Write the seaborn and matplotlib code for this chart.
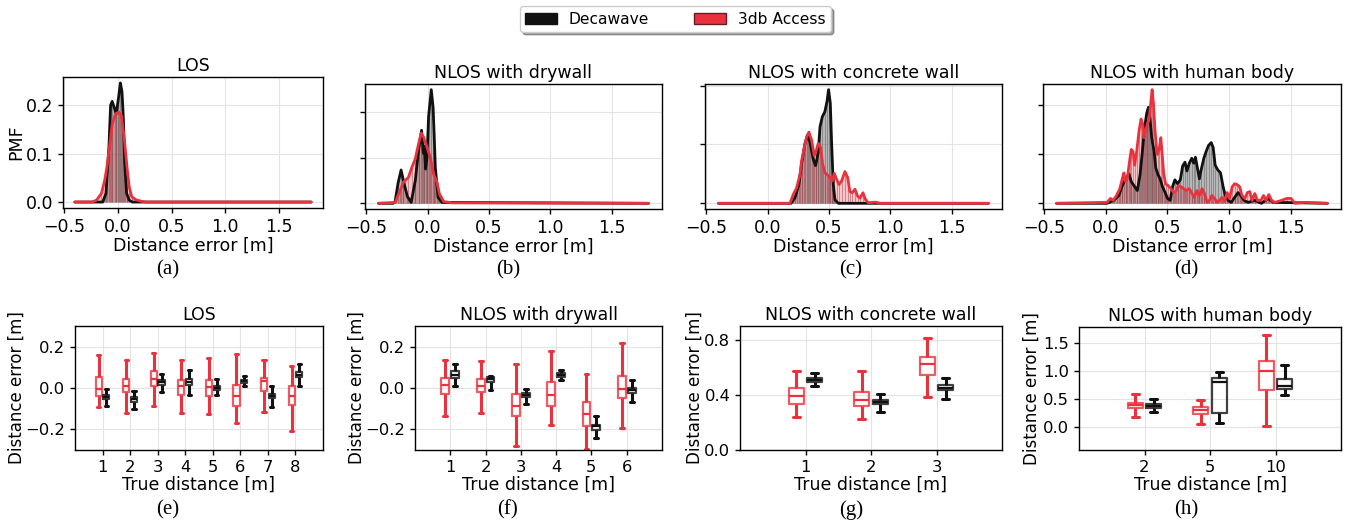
import numpy as np
import pandas as pd
import matplotlib
matplotlib.use("Agg")
import matplotlib.pyplot as plt
import seaborn as sns
from matplotlib.patches import Patch

# ---------------- data: PMF curves (top row) ----------------
LOS_DW_X = [-0.40, -0.14, -0.11, -0.082, -0.067, -0.052, -0.030, -0.015, 0.006, 0.024, 0.039, 0.052, 0.064, 0.082, 0.106, 0.136, 1.80]
LOS_DW_PMF = [0, 0, 0.018, 0.116, 0.200, 0.208, 0.193, 0.182, 0.214, 0.246, 0.228, 0.172, 0.081, 0.018, 0.004, 0, 0]
LOS_3DB_X = [-0.40, -0.24, -0.197, -0.152, -0.121, -0.100, -0.076, -0.052, -0.021, 0.009, 0.033, 0.061, 0.085, 0.106, 0.130, 0.167, 0.212, 0.258, 1.80]
LOS_3DB_PMF = [0, 0, 0.004, 0.018, 0.046, 0.074, 0.116, 0.161, 0.182, 0.186, 0.179, 0.130, 0.074, 0.032, 0.011, 0.005, 0.002, 0, 0]

DRY_DW_X = [-0.40, -0.28, -0.265, -0.240, -0.216, -0.197, -0.165, -0.134, -0.100, -0.074, -0.049, -0.035, -0.027, -0.016, -0.005, 0.008, 0.030, 0.045, 0.055, 0.063, 0.085, 0.117, 1.80]
DRY_DW_PMF = [0, 0, 0.004, 0.045, 0.073, 0.050, 0.015, 0.002, 0.050, 0.116, 0.160, 0.110, 0.125, 0.075, 0.100, 0.190, 0.249, 0.210, 0.140, 0.079, 0.013, 0.002, 0]
DRY_3DB_X = [-0.40, -0.265, -0.224, -0.197, -0.156, -0.128, -0.101, -0.074, -0.052, -0.033, -0.005, 0.022, 0.049, 0.077, 0.096, 0.131, 0.200, 1.80]
DRY_3DB_PMF = [0, 0.002, 0.028, 0.046, 0.057, 0.079, 0.097, 0.130, 0.154, 0.145, 0.123, 0.101, 0.064, 0.046, 0.021, 0.004, 0.001, 0]

CON_DW_X = [-0.40, 0.190, 0.223, 0.255, 0.277, 0.304, 0.326, 0.345, 0.372, 0.391, 0.413, 0.427, 0.446, 0.467, 0.484, 0.497, 0.511, 0.522, 0.535, 0.549, 0.576, 1.80]
CON_DW_PMF = [0, 0, 0.009, 0.032, 0.067, 0.101, 0.116, 0.104, 0.075, 0.064, 0.087, 0.130, 0.147, 0.156, 0.173, 0.193, 0.170, 0.101, 0.032, 0.006, 0, 0]
CON_3DB_X = [-0.40, 0.182, 0.209, 0.236, 0.264, 0.277, 0.299, 0.318, 0.337, 0.359, 0.380, 0.397, 0.413, 0.432, 0.448, 0.467, 0.489, 0.508, 0.527, 0.543, 0.562, 0.582, 0.603, 0.630, 0.652, 0.671, 0.690, 0.712, 0.734, 0.753, 0.777, 0.799, 0.821, 0.880, 0.920, 1.80]
CON_3DB_PMF = [0, 0, 0.015, 0.026, 0.049, 0.072, 0.095, 0.113, 0.121, 0.107, 0.081, 0.090, 0.102, 0.095, 0.067, 0.052, 0.048, 0.044, 0.038, 0.051, 0.041, 0.032, 0.038, 0.054, 0.044, 0.020, 0.018, 0.024, 0.012, 0.009, 0.018, 0.006, 0.001, 0.002, 0, 0]

HUM_DW_X = [-0.40, 0.010, 0.065, 0.106, 0.134, 0.161, 0.188, 0.207, 0.229, 0.256, 0.278, 0.297, 0.316, 0.332, 0.346, 0.360, 0.373, 0.392, 0.406, 0.425, 0.441, 0.460, 0.482, 0.501, 0.523, 0.542, 0.561, 0.583, 0.605, 0.624, 0.643, 0.659, 0.678, 0.698, 0.714, 0.728, 0.747, 0.760, 0.774, 0.796, 0.815, 0.834, 0.856, 0.872, 0.888, 0.910, 0.932, 0.951, 0.970, 0.992, 1.019, 1.046, 1.074, 1.095, 1.123, 1.155, 1.210, 1.264, 1.319, 1.360, 1.80]
HUM_DW_PMF = [0, 0, 0.003, 0.008, 0.018, 0.025, 0.030, 0.022, 0.018, 0.013, 0.029, 0.053, 0.078, 0.092, 0.098, 0.085, 0.067, 0.053, 0.036, 0.029, 0.025, 0.017, 0.011, 0.005, 0.003, 0.017, 0.024, 0.020, 0.024, 0.038, 0.042, 0.033, 0.041, 0.046, 0.041, 0.047, 0.034, 0.025, 0.034, 0.046, 0.053, 0.059, 0.062, 0.057, 0.039, 0.034, 0.031, 0.018, 0.008, 0.003, 0.001, 0.006, 0.011, 0.008, 0.003, 0.001, 0.003, 0, 0.005, 0.001, 0]
HUM_3DB_X = [-0.40, 0.011, 0.038, 0.060, 0.087, 0.114, 0.134, 0.147, 0.161, 0.174, 0.193, 0.207, 0.221, 0.234, 0.251, 0.270, 0.286, 0.300, 0.311, 0.324, 0.338, 0.351, 0.365, 0.376, 0.387, 0.398, 0.409, 0.420, 0.433, 0.447, 0.458, 0.469, 0.485, 0.507, 0.529, 0.550, 0.569, 0.589, 0.610, 0.632, 0.654, 0.678, 0.700, 0.719, 0.741, 0.760, 0.782, 0.801, 0.823, 0.842, 0.861, 0.883, 0.905, 0.924, 0.943, 0.965, 0.986, 1.005, 1.027, 1.046, 1.068, 1.087, 1.106, 1.128, 1.150, 1.169, 1.188, 1.210, 1.232, 1.259, 1.281, 1.300, 1.324, 1.346, 1.373, 1.428, 1.469, 1.504, 1.537, 1.620, 1.80]
HUM_3DB_PMF = [0, 0.001, 0.005, 0.003, 0.008, 0.015, 0.025, 0.031, 0.022, 0.025, 0.043, 0.055, 0.053, 0.039, 0.053, 0.074, 0.086, 0.081, 0.067, 0.074, 0.081, 0.085, 0.102, 0.116, 0.102, 0.078, 0.060, 0.050, 0.055, 0.067, 0.050, 0.032, 0.020, 0.018, 0.015, 0.011, 0.012, 0.018, 0.017, 0.015, 0.013, 0.015, 0.010, 0.006, 0.013, 0.008, 0.015, 0.010, 0.001, 0.003, 0.008, 0.005, 0.001, 0.003, 0.006, 0.002, 0.011, 0.005, 0.017, 0.020, 0.019, 0.017, 0.008, 0.005, 0.011, 0.012, 0.003, 0.010, 0.003, 0.003, 0.008, 0.003, 0.009, 0.003, 0.001, 0.003, 0.005, 0.005, 0, 0.001, 0]

PMF_TITLES = ["LOS", "NLOS with drywall", "NLOS with concrete wall", "NLOS with human body"]

# ---------------- data: box plots (bottom row) ----------------
# each box: [whisker low, Q1, median, Q3, whisker high]
LOS_DIST = ["1", "2", "3", "4", "5", "6", "7", "8"]
LOS_3DB_BOX = [[-0.094, -0.040, -0.005, 0.053, 0.158], [-0.121, -0.021, 0.008, 0.045, 0.134],
               [-0.085, 0.011, 0.044, 0.081, 0.169], [-0.121, -0.032, 0.008, 0.037, 0.134],
               [-0.124, -0.037, 0.005, 0.040, 0.147], [-0.169, -0.089, -0.040, 0.016, 0.163],
               [-0.115, -0.016, 0.032, 0.048, 0.137], [-0.206, -0.081, -0.040, 0.008, 0.105]]
LOS_DW_BOX = [[-0.085, -0.052, -0.044, -0.035, -0.003], [-0.100, -0.068, -0.053, -0.044, -0.016],
              [-0.019, 0.013, 0.027, 0.040, 0.069], [-0.032, 0.016, 0.029, 0.045, 0.089],
              [-0.035, -0.011, 0.000, 0.011, 0.045], [0.008, 0.024, 0.032, 0.040, 0.060],
              [-0.094, -0.048, -0.037, -0.027, 0.008], [0.008, 0.052, 0.063, 0.076, 0.118]]

DRY_DIST = ["1", "2", "3", "4", "5", "6"]
DRY_3DB_BOX = [[-0.134, -0.027, 0.013, 0.048, 0.137], [-0.119, -0.021, 0.008, 0.045, 0.132],
               [-0.282, -0.134, -0.085, -0.027, 0.118], [-0.177, -0.089, -0.032, 0.027, 0.181],
               [-0.295, -0.182, -0.124, -0.068, 0.069], [-0.195, -0.050, -0.003, 0.056, 0.218]]
DRY_DW_BOX = [[0.008, 0.048, 0.065, 0.081, 0.118], [-0.008, 0.027, 0.044, 0.052, 0.060],
              [-0.076, -0.044, -0.032, -0.024, -0.003], [0.037, 0.053, 0.063, 0.073, 0.089],
              [-0.242, -0.202, -0.185, -0.177, -0.134], [-0.069, -0.024, -0.011, -0.002, 0.037]]

CON_DIST = ["1", "2", "3"]
CON_3DB_BOX = [[0.241, 0.337, 0.395, 0.448, 0.573], [0.227, 0.318, 0.366, 0.422, 0.573],
               [0.386, 0.545, 0.627, 0.672, 0.814]]
CON_DW_BOX = [[0.465, 0.496, 0.511, 0.523, 0.561], [0.277, 0.333, 0.352, 0.366, 0.410],
              [0.371, 0.439, 0.453, 0.470, 0.525]]

HUM_DIST = ["2", "5", "10"]
HUM_3DB_BOX = [[0.188, 0.347, 0.394, 0.435, 0.588], [0.059, 0.235, 0.306, 0.365, 0.482],
               [0.024, 0.671, 1.000, 1.171, 1.635]]
HUM_DW_BOX = [[0.276, 0.353, 0.382, 0.412, 0.500], [0.082, 0.259, 0.806, 0.876, 0.982],
              [0.571, 0.676, 0.735, 0.853, 1.100]]

BOX_TITLES = ["LOS", "NLOS with drywall", "NLOS with concrete wall", "NLOS with human body"]
BOX_YLIMS = [(-0.3, 0.3), (-0.3, 0.3), (0.0, 0.9), (-0.4, 1.78)]
BOX_YTICKS = [[-0.2, 0.0, 0.2], [-0.2, 0.0, 0.2], [0.0, 0.4, 0.8], [0.0, 0.5, 1.0, 1.5]]

DEVICES = ["Decawave", "3db Access"]
CAPTIONS_TOP = ["(a)", "(b)", "(c)", "(d)"]
CAPTIONS_BOTTOM = ["(e)", "(f)", "(g)", "(h)"]

# ---------------- style ----------------
RED = "#e9323d"
BLACK = "#111111"
W, H = 1350, 523

sns.set_theme(style="whitegrid", rc={
    "axes.edgecolor": "black", "axes.linewidth": 1.0,
    "grid.color": "#e3e3e3", "grid.linewidth": 0.8,
    "xtick.bottom": True, "ytick.left": True,
    "xtick.major.size": 3.5, "ytick.major.size": 3.5,
    "xtick.major.width": 1.0, "ytick.major.width": 1.0,
    "xtick.color": "black", "ytick.color": "black",
    "text.color": "black", "axes.labelcolor": "black",
    "font.size": 12.5, "axes.labelsize": 12.5, "axes.titlesize": 12.5,
    "xtick.labelsize": 12.5, "ytick.labelsize": 12.5,
})
plt.rcParams["font.family"] = ["DejaVu Sans"]

fig = plt.figure(figsize=(W / 100, H / 100), dpi=100)


def rect(l, r, t, b):
    return [l / W, (H - b) / H, (r - l) / W, (b - t) / H]


TOP_RECTS = [rect(63, 323, 77, 208), rect(365, 662, 84, 209), rect(705, 1002, 84, 209), rect(1043, 1341, 84, 209)]
BOT_RECTS = [rect(75, 323, 326, 450), rect(415, 662, 326, 450), rect(740, 1002, 326, 450), rect(1079, 1341, 327, 450)]
BOT_YLABEL_X = [-0.20, -0.20, -0.14, -0.145]
CAP_X = [168, 508, 851, 1186]

pmf_data = [
    (LOS_DW_X, LOS_DW_PMF, LOS_3DB_X, LOS_3DB_PMF),
    (DRY_DW_X, DRY_DW_PMF, DRY_3DB_X, DRY_3DB_PMF),
    (CON_DW_X, CON_DW_PMF, CON_3DB_X, CON_3DB_PMF),
    (HUM_DW_X, HUM_DW_PMF, HUM_3DB_X, HUM_3DB_PMF),
]

for i, (xd, yd, xr, yr) in enumerate(pmf_data):
    ax = fig.add_axes(TOP_RECTS[i])
    ax.fill_between(xd, 0, yd, color=BLACK, alpha=0.3, lw=0)
    ax.vlines(xd[1:-1], 0, yd[1:-1], color="#555555", lw=0.7, alpha=0.45)
    ax.fill_between(xr, 0, yr, color=RED, alpha=0.28, lw=0)
    ax.vlines(xr[1:-1], 0, yr[1:-1], color="#9a3a42", lw=0.7, alpha=0.45)
    sns.lineplot(x=xd, y=yd, color=BLACK, lw=2, ax=ax, sort=False, estimator=None)
    sns.lineplot(x=xr, y=yr, color=RED, lw=2, ax=ax, sort=False, estimator=None)
    ax.set_xticks([-0.5, 0.0, 0.5, 1.0, 1.5])
    ax.set_title(PMF_TITLES[i], pad=4)
    ax.set_xlabel("Distance error [m]", labelpad=1)
    if i == 0:
        ax.set_ylabel("PMF")
        ax.yaxis.set_label_coords(-0.146, 0.5)
    else:
        ax.set_ylabel("")
        ax.tick_params(labelleft=False)
    fig.text(CAP_X[i] / W, 1 - 270 / H, CAPTIONS_TOP[i], ha="center", va="center",
             family=["Liberation Serif", "DejaVu Serif"], fontsize=15)

box_data = [
    (LOS_DIST, LOS_3DB_BOX, LOS_DW_BOX),
    (DRY_DIST, DRY_3DB_BOX, DRY_DW_BOX),
    (CON_DIST, CON_3DB_BOX, CON_DW_BOX),
    (HUM_DIST, HUM_3DB_BOX, HUM_DW_BOX),
]

for i, (cats, red_boxes, dw_boxes) in enumerate(box_data):
    ax = fig.add_axes(BOT_RECTS[i])
    rows = []
    for c, vals in zip(cats, red_boxes):
        for v in vals:
            rows.append((c, "3db Access", v))
    for c, vals in zip(cats, dw_boxes):
        for v in vals:
            rows.append((c, "Decawave", v))
    df = pd.DataFrame(rows, columns=["dist", "device", "err"])
    sns.boxplot(data=df, x="dist", y="err", hue="device", order=cats,
                hue_order=["3db Access", "Decawave"],
                palette={"3db Access": RED, "Decawave": BLACK},
                fill=False, width=0.56, gap=0.2, whis=(0, 100), linewidth=1.6,
                legend=False, ax=ax,
                whiskerprops=dict(linewidth=2.2), capprops=dict(linewidth=2.2),
                boxprops=dict(alpha=0.8))
    ax.set_xlim(-1, len(cats))
    ax.set_ylim(*BOX_YLIMS[i])
    ax.set_yticks(BOX_YTICKS[i])
    ax.tick_params(labelsize=11.8)
    ax.grid(True, axis="both")
    ax.set_title(BOX_TITLES[i], pad=4)
    ax.set_xlabel("True distance [m]", labelpad=1)
    ax.set_ylabel("Distance error [m]", fontsize=12)
    ax.yaxis.set_label_coords(BOT_YLABEL_X[i], 0.5)
    fig.text(CAP_X[i] / W, 1 - 510 / H, CAPTIONS_BOTTOM[i], ha="center", va="center",
             family=["Liberation Serif", "DejaVu Serif"], fontsize=15)

handles = [Patch(facecolor=BLACK, edgecolor=BLACK, label=DEVICES[0]),
           Patch(facecolor=RED, edgecolor="#6a1a20", label=DEVICES[1])]
fig.legend(handles=handles, loc="center", bbox_to_anchor=(675.5 / W, 1 - 19 / H), ncol=2,
           frameon=True, shadow=True, fancybox=True, fontsize=11.2, handlelength=2.0,
           columnspacing=2.9, borderpad=0.35, edgecolor="#cccccc")

fig.savefig("out.png", dpi=100)
